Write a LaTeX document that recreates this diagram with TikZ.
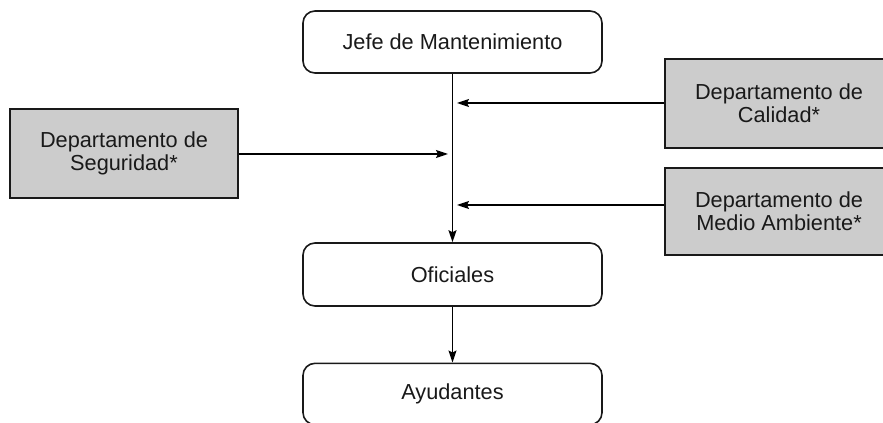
\documentclass[tikz,border=0pt]{standalone}
\usepackage{fontspec}
\setmainfont{Liberation Sans}
\usetikzlibrary{arrows.meta}
\begin{document}
\begin{tikzpicture}[x=0.75pt,y=-0.75pt,
  txt/.style={font=\fontsize{16.3}{17.5}\selectfont, text=black!90, align=center, inner sep=0pt},
  roundbox/.style={txt, draw=black!90, line width=1.2pt, rounded corners=9pt, minimum width=224.25pt},
  greybox/.style={txt, draw=black!90, line width=1.2pt, fill=black!20, minimum width=171pt},
  arr/.style={draw=black, line width=1.1pt, -{Stealth[length=9pt,width=6pt,inset=1.5pt]}}]
\useasboundingbox (0,0) rectangle (883,423);
\clip (0,0) rectangle (883,423);
\node[roundbox, minimum height=46.5pt] (jefe) at (452.5,42) {Jefe de Mantenimiento};
\node[roundbox, minimum height=47.25pt] (ofi) at (452.5,274.5) {Oficiales};
\node[roundbox, minimum height=46pt] (ayu) at (452.5,394) {Ayudantes};
\node[greybox, minimum height=66.75pt] (seg) at (124,153.5) {Departamento de\\Seguridad*};
\node[greybox, minimum height=66.75pt] (cal) at (779,103.5) {Departamento de\\Calidad*};
\node[greybox, minimum height=65.25pt] (ma) at (779,211.5) {Departamento de\\Medio Ambiente*};
\coordinate (calin) at (457,103);
\coordinate (segin) at (448,154);
\coordinate (main) at (457,205);
\draw[arr] (jefe.south) -- (ofi.north);
\draw[arr] (ofi.south) -- (ayu.north);
\draw[arr] (cal.west |- calin) -- (calin);
\draw[arr] (seg.east |- segin) -- (segin);
\draw[arr] (ma.west |- main) -- (main);
\end{tikzpicture}
\end{document}
